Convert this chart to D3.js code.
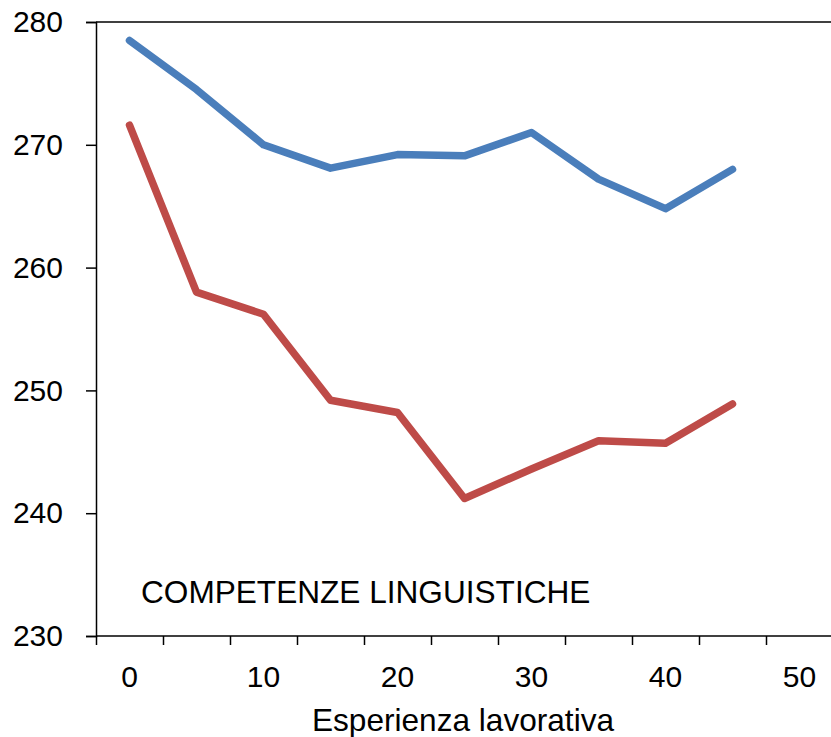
<!DOCTYPE html>
<html>
<head>
<meta charset="utf-8">
<script src="https://cdn.jsdelivr.net/npm/d3@7"></script>
<style>
  html, body { margin: 0; padding: 0; background: #fff; }
  svg { display: block; }
  text { font-family: "Liberation Sans", Arial, sans-serif; fill: #000; }
</style>
</head>
<body>
<svg id="chart" width="831" height="737"></svg>
<script>
// ---- data ----
const experience = [0, 5, 10, 15, 20, 25, 30, 35, 40, 45];
const seriesBlue = [278.5, 274.5, 270.0, 268.1, 269.2, 269.1, 271.0, 267.2, 264.8, 268.0];
const seriesRed  = [271.6, 258.0, 256.2, 249.2, 248.2, 241.2, 243.6, 245.9, 245.7, 248.9];
const yTicks = [230, 240, 250, 260, 270, 280];
const xLabels = [0, 10, 20, 30, 40, 50];
const xTickMarks = [-2.5, 2.5, 7.5, 12.5, 17.5, 22.5, 27.5, 32.5, 37.5, 42.5, 47.5];
const xTitle = "Esperienza lavorativa";
const annotation = "COMPETENZE LINGUISTICHE";
const colors = { blue: "#4A7EBB", red: "#BE4B48" };

(function () {
// ---- layout ----
const svg = d3.select("#chart");
const mLeft = 96, mRight = 833, mTop = 22, mBottom = 636;

const x = d3.scaleLinear().domain([-2.5, 52.5]).range([mLeft, mRight]);
const y = d3.scaleLinear().domain([230, 280]).range([mBottom, mTop]);

// top border line
svg.append("line")
  .attr("x1", mLeft).attr("x2", 831)
  .attr("y1", y(280)).attr("y2", y(280))
  .attr("stroke", "#000").attr("stroke-width", 1.5);

// y axis
const yAxis = svg.append("g")
  .attr("transform", `translate(${mLeft},0)`)
  .call(d3.axisLeft(y).tickValues(yTicks).tickSize(10).tickPadding(23).tickFormat(d3.format("d")));
yAxis.select(".domain").attr("stroke", "#000").attr("stroke-width", 1.5);
yAxis.selectAll(".tick line").attr("stroke", "#000").attr("stroke-width", 1.5);
yAxis.selectAll("text").style("font-size", "30px").attr("fill", "#000")
  .attr("font-family", "Liberation Sans, Arial, sans-serif");

// x axis: tick marks (no labels)
const xAxis = svg.append("g")
  .attr("transform", `translate(0,${mBottom})`)
  .call(d3.axisBottom(x).tickValues(xTickMarks).tickSize(9).tickFormat(""));
xAxis.select(".domain").attr("stroke", "#000").attr("stroke-width", 1.5)
  .attr("d", `M${mLeft},0H831`);
xAxis.selectAll(".tick line").attr("stroke", "#000").attr("stroke-width", 1.5);

// x labels (centered between tick marks)
svg.append("g").selectAll("text")
  .data(xLabels).join("text")
  .attr("x", d => x(d))
  .attr("y", 687)
  .attr("text-anchor", "middle")
  .style("font-size", "30px")
  .text(d => d);

// x title
svg.append("text")
  .attr("x", 463).attr("y", 731)
  .attr("text-anchor", "middle")
  .style("font-size", "31.6px")
  .text(xTitle);

// annotation
svg.append("text")
  .attr("x", 141).attr("y", 603)
  .style("font-size", "31.6px")
  .text(annotation);

// lines
const line = d3.line().x((d, i) => x(experience[i])).y(d => y(d));
[[seriesBlue, colors.blue], [seriesRed, colors.red]].forEach(([s, c]) => {
  svg.append("path")
    .datum(s)
    .attr("d", line)
    .attr("fill", "none")
    .attr("stroke", c)
    .attr("stroke-width", 7.5)
    .attr("stroke-linejoin", "round")
    .attr("stroke-linecap", "round");
});
})();
</script>
</body>
</html>
